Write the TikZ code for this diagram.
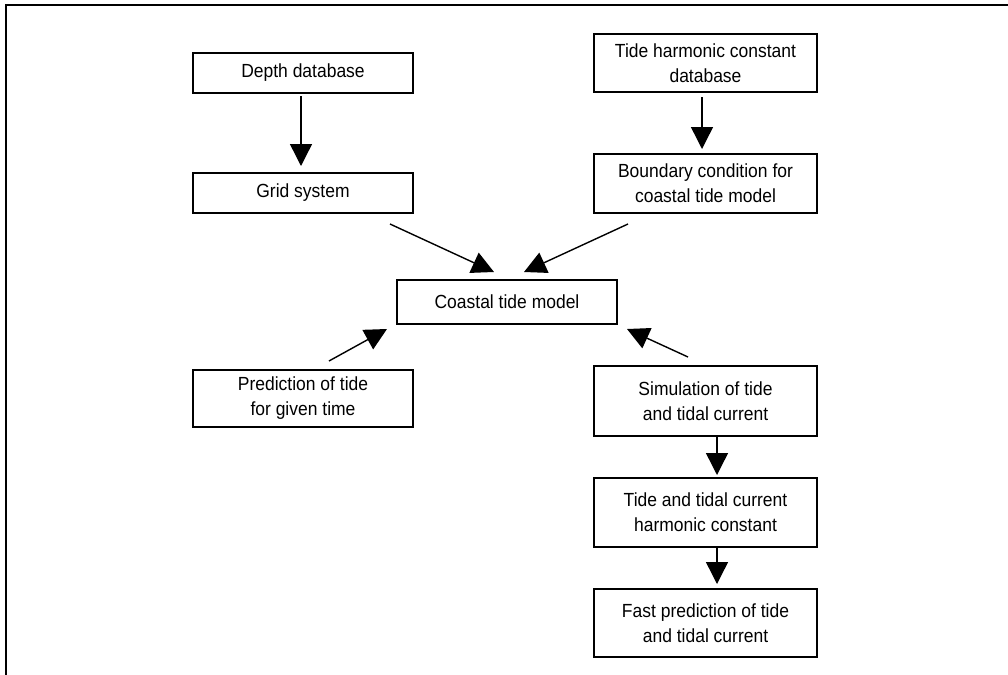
\documentclass[tikz,border=0pt]{standalone}
\usepackage{fontspec}
\setmainfont[FakeStretch=0.92]{Liberation Sans}
\usetikzlibrary{arrows.meta,calc}

\begin{document}
\begin{tikzpicture}[x=0.5pt,y=-0.5pt,
  box/.style={draw, line width=1pt, inner sep=0pt, align=center,
    font=\fontsize{9.5}{12.5}\selectfont},
  lbox/.style={box, minimum width=110pt},
  rbox/.style={box, minimum width=111.5pt},
  arr/.style={line width=0.7pt, -{Triangle[length=11pt,width=11pt]}},
  frame/.style={line width=1pt}]

\useasboundingbox (0,0) rectangle (1008,675);

% outer frame (top and left edges)
\draw[frame] (1010,5) -- (6,5) -- (6,677);

% left column
\node[lbox, minimum height=20pt] (depth) at (303,73) {Depth database};
\node[lbox, minimum height=20pt] (grid)  at (303,193) {Grid system};
\node[lbox, minimum height=28.5pt] (pred) at (303,398.5) {Prediction of tide\\for given time};

% right column
\node[rbox, minimum height=29pt] (tide)  at (705.5,63) {Tide harmonic constant\\database};
\node[rbox, minimum height=29.5pt] (bound) at (705.5,183.5) {Boundary condition for\\coastal tide model};
\node[rbox, minimum height=35pt] (sim)   at (705.5,401) {Simulation of tide\\and tidal current};
\node[rbox, minimum height=34.5pt] (harm) at (705.5,512.5) {Tide and tidal current\\harmonic constant};
\node[rbox, minimum height=34pt] (fast)  at (705.5,623) {Fast prediction of tide\\and tidal current};

% centre
\node[box, minimum width=110pt, minimum height=22pt] (coastal) at (507,302) {Coastal tide model};

% vertical connectors
\draw[arr] ($(depth.south)+(-2,2)$) -- ($(grid.north)+(-2,-6)$);
\draw[arr] ($(tide.south)+(-3.5,4)$) -- ($(bound.north)+(-3.5,-4)$);
\draw[arr] ($(sim.south)+(11.5,0)$) -- ($(harm.north)+(11.5,-2)$);
\draw[arr] ($(harm.south)+(11.5,0)$) -- ($(fast.north)+(11.5,-4)$);

% diagonal connectors into the coastal model
\draw[arr] ($(grid.south east)+(-24,10)$) -- ($(coastal.north)+(-13,-7)$);
\draw[arr] ($(bound.south west)+(35,10)$) -- ($(coastal.north)+(17,-7)$);
\draw[arr] ($(pred.north)+(26,-8)$) -- ($(coastal.south west)+(-9,4)$);
\draw[arr] ($(sim.north)+(-17.5,-8)$) -- ($(coastal.south east)+(9,4)$);

\end{tikzpicture}
\end{document}
